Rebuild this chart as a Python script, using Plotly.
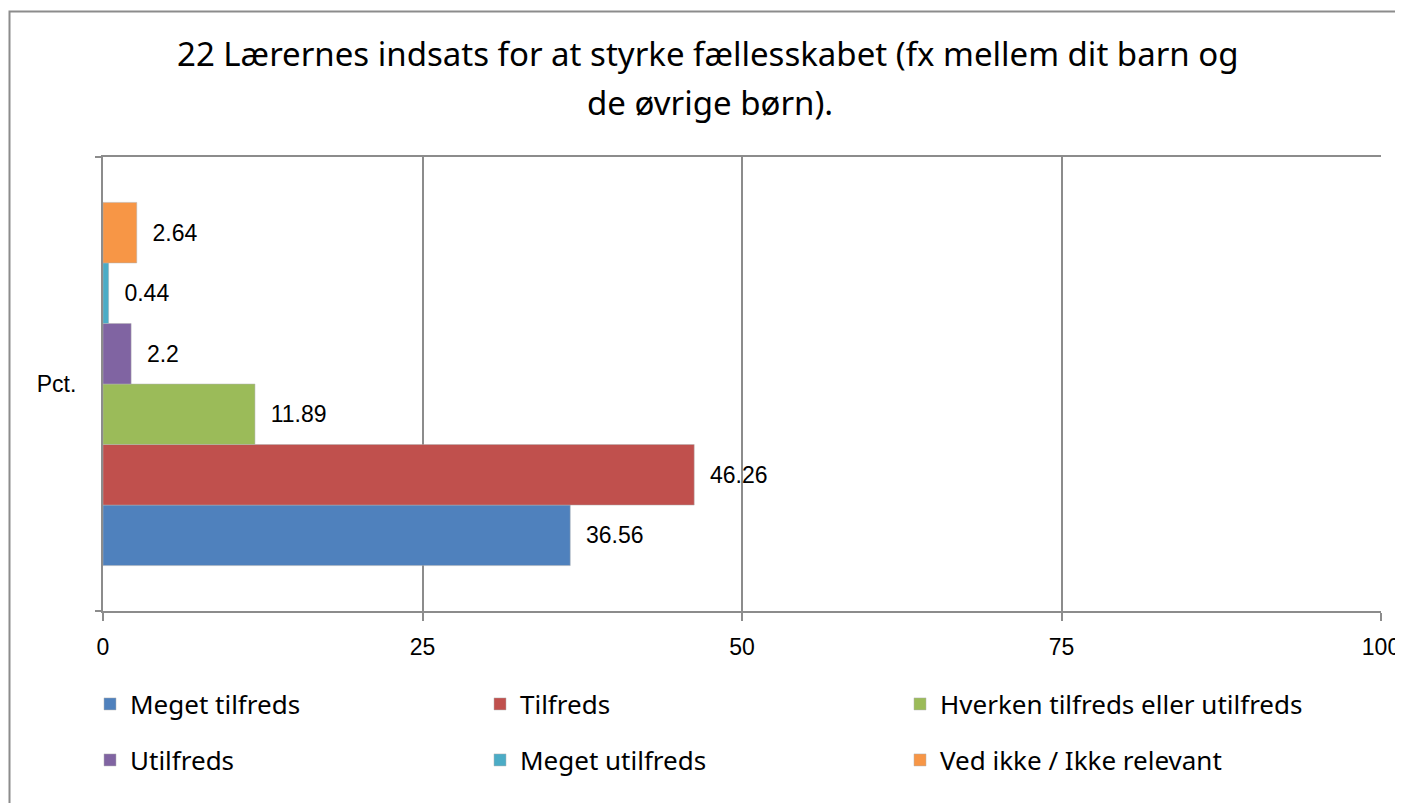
import plotly.graph_objects as go

# data
category = ["Pct."]
series_names = ["Meget tilfreds", "Tilfreds", "Hverken tilfreds eller utilfreds",
                "Utilfreds", "Meget utilfreds", "Ved ikke / Ikke relevant"]
series_values = [36.56, 46.26, 11.89, 2.2, 0.44, 2.64]
series_colors = ["#4F81BD", "#C0504D", "#9BBB59", "#8064A2", "#4BACC6", "#F79646"]
x_ticks = [0, 25, 50, 75, 100]

title_line1 = "22 Lærernes indsats for at styrke fællesskabet (fx mellem dit barn og"
title_line2 = "de øvrige børn)."

# the page body has an 8px margin, so the figure is drawn 8px in from the corner
OFF = 8
W, H = 1403 - OFF, 803 - OFF
# plot area in reference pixels: x 103..1381, y 157..611
L, T = 103 - OFF, 157 - OFF
R, B = W - (1381 - OFF), H - (611 - OFF)
pw, ph = W - L - R, H - T - B

def px(x):
    return (x - OFF - L) / pw

def py(y):
    return (H - B - (y - OFF)) / ph

num_font = dict(family="Liberation Sans", size=23, color="black")
txt_font = dict(family="Noto Sans", size=26, color="black")
grid = "#8C8C8C"

# legend slots: (left x of legend box, centre y of row), reference pixels
legend_pos = [(90, 704), (480, 704), (900, 704), (90, 760), (480, 760), (900, 760)]

fig = go.Figure()
for i, (name, val, col) in enumerate(zip(series_names, series_values, series_colors)):
    lg = "legend" if i == 0 else "legend%d" % (i + 1)
    fig.add_trace(go.Bar(
        y=category, x=[val], name=name, orientation="h",
        marker=dict(color=col, line=dict(width=0.5, color="#B0B0B0")),
        text=["  " + str(val)], textposition="outside", textfont=num_font,
        cliponaxis=False, legend=lg,
    ))

legends = {}
for i, (lx, ly) in enumerate(legend_pos):
    key = "legend" if i == 0 else "legend%d" % (i + 1)
    legends[key] = dict(
        x=px(lx), y=py(ly), xanchor="left", yanchor="middle",
        font=txt_font, itemwidth=30, bgcolor="rgba(0,0,0,0)",
        borderwidth=0, orientation="v",
    )

fig.update_layout(
    width=W, height=H,
    margin=dict(l=L, r=R, t=T, b=B, autoexpand=False),
    paper_bgcolor="white", plot_bgcolor="white",
    barmode="group", bargap=0.2, bargroupgap=0,
    showlegend=True,
    **legends,
    xaxis=dict(
        range=[0, 100], tickvals=x_ticks, ticktext=[str(t) for t in x_ticks],
        showgrid=True, gridcolor=grid, gridwidth=2,
        showline=True, linecolor=grid, linewidth=2, mirror=True,
        ticks="outside", ticklen=8, tickcolor=grid, tickwidth=2,
        tickfont=num_font, zeroline=False, ticklabelstandoff=6,
    ),
    yaxis=dict(
        type="category", range=[-0.5, 0.5], tickson="boundaries",
        showgrid=True, gridcolor=grid, gridwidth=2,
        showline=True, linecolor=grid, linewidth=2,
        ticks="outside", ticklen=6, tickcolor=grid, tickwidth=2,
        tickfont=num_font, ticklabelstandoff=20,
    ),
    annotations=[
        dict(text=title_line1, x=px(708), y=py(54), xref="paper", yref="paper",
             showarrow=False, xanchor="center", yanchor="middle",
             font=dict(family="Noto Sans", size=33, color="black")),
        dict(text=title_line2, x=px(710), y=py(102), xref="paper", yref="paper",
             showarrow=False, xanchor="center", yanchor="middle",
             font=dict(family="Noto Sans", size=33, color="black")),
    ],
    shapes=[dict(type="rect", xref="paper", yref="paper",
                 x0=px(9.5), y0=py(830), x1=px(1430), y1=py(11.5),
                 line=dict(color="#8C8C8C", width=2), layer="below")],
)

fig.write_html("out.html")
